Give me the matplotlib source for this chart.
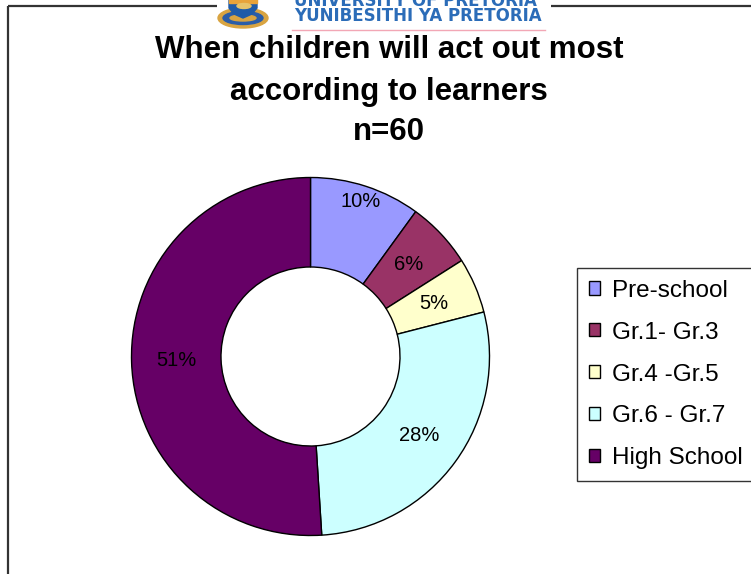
import numpy as np
import matplotlib

matplotlib.use("Agg")
import matplotlib.pyplot as plt
from matplotlib.patches import Polygon, Ellipse

W, H = 751, 574

categories = ["Pre-school", "Gr.1- Gr.3", "Gr.4 -Gr.5", "Gr.6 - Gr.7", "High School"]
shares = [10, 6, 5, 28, 51]
colors = ["#9999FF", "#993366", "#FFFFCC", "#CCFFFF", "#660066"]
title_lines = ["When children will act out most", "according to learners", "n=60"]
logo_lines = ["UNIVERSITY OF PRETORIA", "YUNIBESITHI YA PRETORIA"]

# radial position of each percentage label (fraction of outer radius)
label_r = [0.91, 0.75, 0.75, 0.75, 0.75]

plt.rcParams["font.family"] = ["Liberation Sans", "DejaVu Sans"]


def fx(px):
    return px / W


def fy(py):
    return 1 - py / H


fig = plt.figure(figsize=(W / 100, H / 100), dpi=100)
fig.patch.set_facecolor("white")

# full-figure overlay in pixel units for the slide frame and header
deco = fig.add_axes([0, 0, 1, 1])
deco.set_xlim(0, W)
deco.set_ylim(H, 0)
deco.axis("off")

frame = dict(color="#333333", lw=1.6, solid_capstyle="butt")
deco.plot([8, 217], [6, 6], **frame)
deco.plot([551, W], [6, 6], **frame)
deco.plot([8, 8], [6, H], **frame)

# crest
deco.add_patch(Ellipse((243, 18), 50, 20, color="#D9A441", zorder=2))
deco.add_patch(Ellipse((243, 18), 40, 13, color="#2A5DA8", zorder=3))
deco.add_patch(Ellipse((243, 18), 26, 6, color="#D9A441", zorder=4))
shield = [(229, -2), (257, -2), (257, 8), (252, 14), (243, 18), (234, 14), (229, 8)]
deco.add_patch(Polygon(shield, closed=True, color="#1F5BA8", zorder=5))
deco.add_patch(Polygon([(229, -2), (257, -2), (257, 3), (229, 3)], color="#E8A33A", zorder=6))
deco.add_patch(Ellipse((244, 6), 14, 5, color="#E7C36A", zorder=7))

# two-line wordmark as one text block, bottom line baseline at y=21
deco.text(294, 21, "\n".join(logo_lines), color="#2B6CB8", fontsize=12,
          family="DejaVu Sans", fontweight="bold", va="baseline", ha="left",
          linespacing=0.78)
deco.plot([292, 545], [30, 30], color="#F2A7B5", lw=1)

for line, base in zip(title_lines, [58, 100, 140]):
    deco.text(389, base, line, fontsize=22.5, fontweight="bold",
              ha="center", va="baseline")

# doughnut
cx, cy, R = 310.5, 356.5, 179
ax = fig.add_axes([fx(cx - R), fy(cy + R), 2 * R / W, 2 * R / H])
wedges, _ = ax.pie(
    shares, colors=colors, startangle=90, counterclock=False, radius=1,
    wedgeprops=dict(width=0.5, edgecolor="black", linewidth=1),
)
ax.set_xlim(-1, 1)
ax.set_ylim(-1, 1)
ax.axis("off")

for w, v, r in zip(wedges, shares, label_r):
    mid = np.deg2rad((w.theta1 + w.theta2) / 2)
    ax.text(r * np.cos(mid), r * np.sin(mid), f"{v}%", fontsize=14.5,
            ha="center", va="center")

leg = fig.legend(
    wedges, categories, loc="upper left",
    bbox_to_anchor=(fx(577), fy(268)), bbox_transform=fig.transFigure,
    borderaxespad=0, fontsize=17.5, frameon=True, fancybox=False,
    edgecolor="black", handlelength=0.45, handleheight=0.45,
    handletextpad=0.5, labelspacing=0.82, borderpad=0.48,
)
leg.get_frame().set_linewidth(1.0)
for h in leg.legend_handles:
    h.set_linewidth(1.0)

fig.savefig("out.png", dpi=100)
